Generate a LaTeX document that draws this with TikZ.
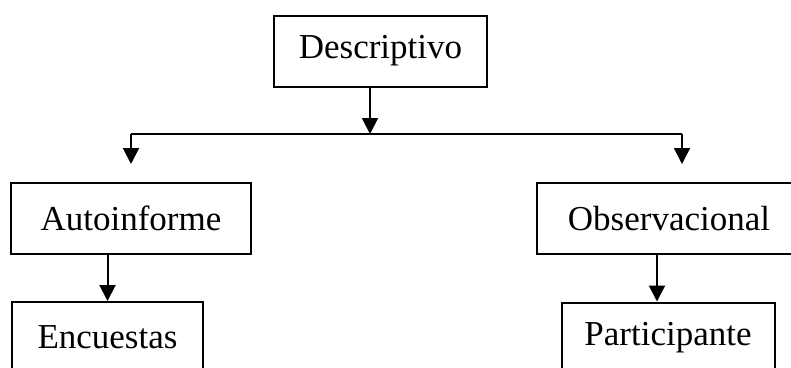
\documentclass[tikz,border=0pt]{standalone}
\usepackage{fontspec}
\setmainfont{Liberation Serif}
\usepackage{tikz}
\usetikzlibrary{arrows.meta}

\begin{document}
\begin{tikzpicture}[x=1pt,y=-1pt,line width=2pt,
  caja/.style={draw,inner sep=0pt,minimum height=71pt,font=\fontsize{35}{40}\selectfont},
  flecha/.style={-{Triangle[width=16pt,length=16pt]}}]
\useasboundingbox (0,0) rectangle (791,367);
\clip (0,0) rectangle (791,367);
\node[caja,minimum width=213pt] (desc) at (380.5,51) {Descriptivo};
\node[caja,minimum width=240pt] (auto) at (131,218.5) {Autoinforme};
\node[caja,minimum width=264pt] (obs) at (669,218.5) {Observacional};
\node[caja,minimum width=191pt] (enc) at (107.5,337.5) {Encuestas};
\node[caja,minimum width=213pt] (part) at (668,338) {Participante};
\coordinate (barI) at (131,134);
\coordinate (barM) at (370,134);
\coordinate (barD) at (682,134);
\draw[flecha] ([xshift=-10.5pt]desc.south) -- (barM);
\draw (barI) -- (barD);
\draw[flecha] (barI) -- ([yshift=18pt]barI |- auto.north);
\draw[flecha] (barD) -- ([yshift=18pt]barD |- obs.north);
\draw[flecha] (auto.south -| enc.north) -- (enc.north);
\draw[flecha] ([xshift=-11pt]obs.south -| part.north) -- ([xshift=-11pt]part.north);
\end{tikzpicture}
\end{document}
